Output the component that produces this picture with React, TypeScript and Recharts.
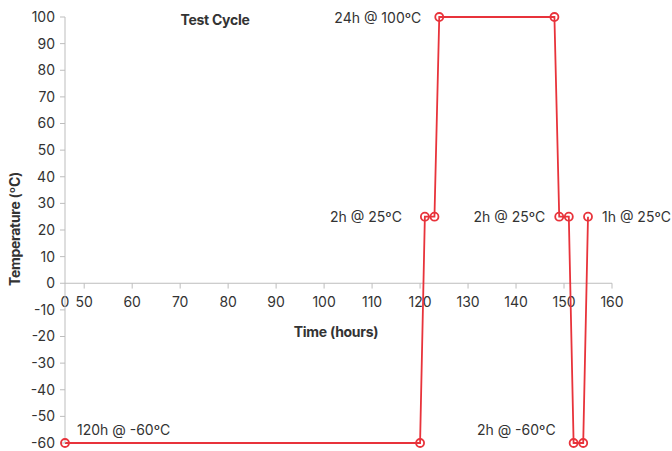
import React from "react";
import { LineChart, Line, XAxis, YAxis, ReferenceLine, ReferenceDot } from "recharts";

// ---- data ----
const times = [0, 120, 121, 123, 124, 148, 149, 151, 152, 154, 155];
const temps = [-60, -60, 25, 25, 100, 100, 25, 25, -60, -60, 25];
const xTickValues = [0, 50, 60, 70, 80, 90, 100, 110, 120, 130, 140, 150, 160];
const yTickValues = [-60, -50, -40, -30, -20, -10, 0, 10, 20, 30, 40, 50, 60, 70, 80, 90, 100];
const annotationTimes = [124, 121, 149, 155, 0, 152];
const annotationTemps = [100, 25, 25, 25, -60, -60];
const annotationTexts = ["24h @ 100ºC", "2h @ 25ºC", "2h @ 25ºC", "1h @ 25ºC", "120h @ -60ºC", "2h @ -60ºC"];

// axis break: 0..50 compressed into a short gap
const BREAK_AT = 50;
const BREAK_GAP = 4;
const toAxis = (t: number) => (t >= BREAK_AT ? t : BREAK_AT - BREAK_GAP + (t * BREAK_GAP) / BREAK_AT);

const data = times.map((t, i) => ({ x: toAxis(t), temp: temps[i] }));

// placement of annotation texts (style, not data)
const placement = [
  { dx: -18, dy: 0, anchor: "end" },
  { dx: -23, dy: 0, anchor: "end" },
  { dx: -14, dy: 0, anchor: "end" },
  { dx: 14, dy: 0, anchor: "start" },
  { dx: 12, dy: -14, anchor: "start" },
  { dx: -18, dy: -14, anchor: "end" },
];

const FONT = "Inter, 'Noto Sans', sans-serif";
const TEXT = "#333333";
const AXIS = "#bdbdbd";
const RED = "#e8333b";

export default function App() {
  return (
    <div style={{ position: "absolute", left: 0, top: 0, width: 672, height: 451, fontFamily: FONT, background: "#fff" }}>
      <LineChart width={672} height={451} data={data} margin={{ top: 17, right: 60, bottom: 8, left: 15 }}>
        <XAxis dataKey="x" type="number" domain={[46, 160]} ticks={xTickValues.map(toAxis)} hide />
        <YAxis
          type="number"
          domain={[-60, 100]}
          ticks={yTickValues}
          interval={0}
          width={50}
          stroke={AXIS}
          tickSize={5}
          tickMargin={5}
          tick={{ fill: TEXT, fontSize: 14, fontFamily: FONT }}
        />
        <ReferenceLine y={0} stroke={AXIS} strokeWidth={1} />
        {xTickValues.map((v) => (
          <ReferenceLine
            key={"xt" + v}
            segment={[
              { x: toAxis(v), y: 0 },
              { x: toAxis(v), y: -2 },
            ]}
            stroke={v === 0 ? "none" : AXIS}
            label={(p: any) => {
              const vb = p.viewBox || {};
              return (
                <text x={vb.x} y={(vb.y || 0) + 18} textAnchor="middle" dominantBaseline="central" fill={TEXT} fontSize={14} fontFamily={FONT}>
                  {v}
                </text>
              );
            }}
          />
        ))}
        <Line
          type="linear"
          dataKey="temp"
          stroke={RED}
          strokeWidth={1.8}
          dot={{ r: 4, stroke: RED, strokeWidth: 1.8, fill: "none" }}
          activeDot={false}
          isAnimationActive={false}
        />
        {annotationTimes.map((t, i) => (
          <ReferenceDot
            key={"an" + i}
            x={toAxis(t)}
            y={annotationTemps[i]}
            r={0}
            stroke="none"
            fill="none"
            label={(p: any) => {
              const vb = p.viewBox || {};
              const cx = (vb.x || 0) + (vb.width || 0) / 2;
              const cy = (vb.y || 0) + (vb.height || 0) / 2;
              const pl = placement[i];
              return (
                <text
                  x={cx + pl.dx}
                  y={cy + pl.dy}
                  textAnchor={pl.anchor as any}
                  dominantBaseline="central"
                  fill={TEXT}
                  fontSize={14}
                  fontFamily={FONT}
                >
                  {annotationTexts[i]}
                </text>
              );
            }}
          />
        ))}
      </LineChart>
      <div style={{ position: "absolute", left: 165, top: 10, width: 100, textAlign: "center", fontWeight: 700, fontSize: 14, color: TEXT, lineHeight: "20px", letterSpacing: -0.3 }}>
        Test Cycle
      </div>
      <div style={{ position: "absolute", left: 236, top: 322, width: 200, textAlign: "center", fontWeight: 700, fontSize: 14, color: TEXT, lineHeight: "20px", letterSpacing: -0.3 }}>
        Time (hours)
      </div>
      <div
        style={{
          position: "absolute",
          left: 15 - 100,
          top: 229 - 10,
          width: 200,
          textAlign: "center",
          fontWeight: 700,
          fontSize: 14,
          color: TEXT,
          lineHeight: "20px",
          letterSpacing: -0.3,
          transform: "rotate(-90deg)",
        }}
      >
        Temperature (ºC)
      </div>
    </div>
  );
}
